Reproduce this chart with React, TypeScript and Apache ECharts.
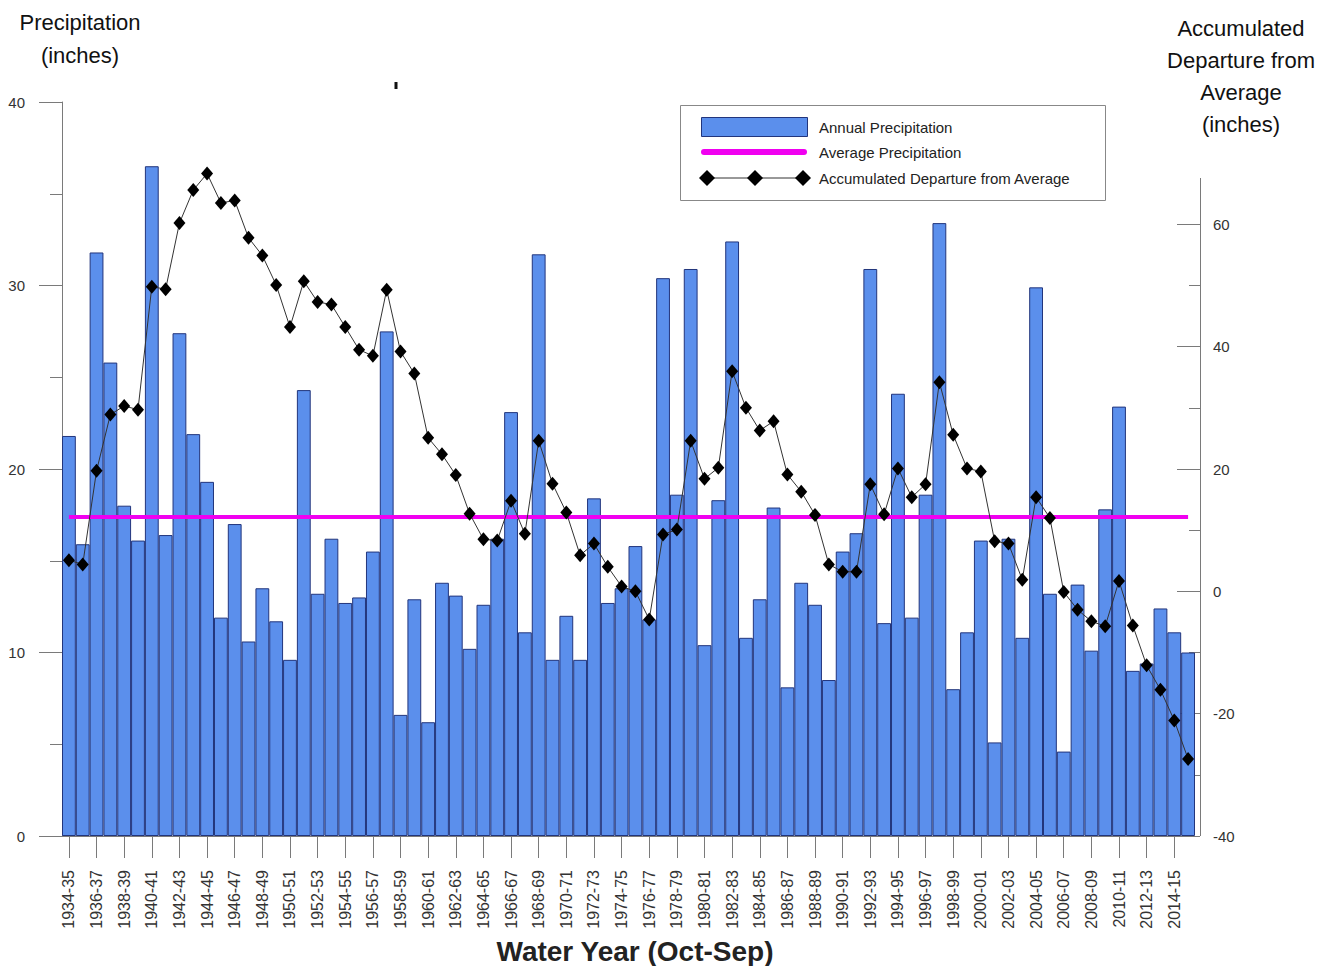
import React, { useEffect, useRef } from "react";
import * as echarts from "echarts";

const WATER_YEARS = [
  "1934-35", "1935-36", "1936-37", "1937-38", "1938-39", "1939-40", "1940-41", "1941-42", "1942-43", "1943-44",
  "1944-45", "1945-46", "1946-47", "1947-48", "1948-49", "1949-50", "1950-51", "1951-52", "1952-53", "1953-54",
  "1954-55", "1955-56", "1956-57", "1957-58", "1958-59", "1959-60", "1960-61", "1961-62", "1962-63", "1963-64",
  "1964-65", "1965-66", "1966-67", "1967-68", "1968-69", "1969-70", "1970-71", "1971-72", "1972-73", "1973-74",
  "1974-75", "1975-76", "1976-77", "1977-78", "1978-79", "1979-80", "1980-81", "1981-82", "1982-83", "1983-84",
  "1984-85", "1985-86", "1986-87", "1987-88", "1988-89", "1989-90", "1990-91", "1991-92", "1992-93", "1993-94",
  "1994-95", "1995-96", "1996-97", "1997-98", "1998-99", "1999-00", "2000-01", "2001-02", "2002-03", "2003-04",
  "2004-05", "2005-06", "2006-07", "2007-08", "2008-09", "2009-10", "2010-11", "2011-12", "2012-13", "2013-14",
  "2014-15", "2015-16",
];

// Annual precipitation (inches), left axis
const ANNUAL_PRECIP = [
  21.8, 15.9, 31.8, 25.8, 18.0, 16.1, 36.5, 16.4, 27.4, 21.9,
  19.3, 11.9, 17.0, 10.6, 13.5, 11.7, 9.6, 24.3, 13.2, 16.2,
  12.7, 13.0, 15.5, 27.5, 6.6, 12.9, 6.2, 13.8, 13.1, 10.2,
  12.6, 16.2, 23.1, 11.1, 31.7, 9.6, 12.0, 9.6, 18.4, 12.7,
  13.5, 15.8, 11.8, 30.4, 18.6, 30.9, 10.4, 18.3, 32.4, 10.8,
  12.9, 17.9, 8.1, 13.8, 12.6, 8.5, 15.5, 16.5, 30.9, 11.6,
  24.1, 11.9, 18.6, 33.4, 8.0, 11.1, 16.1, 5.1, 16.2, 10.8,
  29.9, 13.2, 4.6, 13.7, 10.1, 17.8, 23.4, 9.0, 9.4, 12.4,
  11.1, 10.0,
];

// Accumulated departure from average (inches), right axis
const ACCUM_DEPARTURE = [
  5.1, 4.4, 19.7, 28.9, 30.3, 29.7, 49.8, 49.4, 60.2, 65.6,
  68.3, 63.5, 63.9, 57.8, 54.9, 50.1, 43.2, 50.7, 47.3, 46.9,
  43.2, 39.5, 38.5, 49.3, 39.2, 35.6, 25.1, 22.4, 19.0, 12.7,
  8.5, 8.3, 14.8, 9.4, 24.6, 17.6, 12.9, 5.9, 7.8, 4.0,
  0.8, 0.0, -4.6, 9.3, 10.1, 24.6, 18.4, 20.2, 36.0, 30.0,
  26.3, 27.8, 19.1, 16.3, 12.5, 4.4, 3.2, 3.2, 17.5, 12.6,
  20.1, 15.4, 17.5, 34.2, 25.6, 20.1, 19.6, 8.2, 7.8, 1.9,
  15.4, 12.0, -0.1, -3.0, -4.9, -5.7, 1.7, -5.6, -12.1, -16.1,
  -21.1, -27.4,
];

const AVERAGE_PRECIP = 17.4;

const RIGHT_MAJOR_TICKS = [-40, -20, 0, 20, 40, 60];
const RIGHT_MINOR_TICKS = [-30, -10, 10, 30, 50];

const FONT = "'Liberation Sans', Arial, Helvetica, sans-serif";
const BLUE = "#5b8fec";
const NAVY = "#22357c";
const MAGENTA = "#f000f0";
const AXIS = "#7a7a7a";
const TEXT = "#333333";

function diamond(cx: number, cy: number, r: number) {
  return {
    type: "polygon",
    shape: { points: [[cx, cy - r], [cx + r, cy], [cx, cy + r], [cx - r, cy]] },
    style: { fill: "#000" },
  };
}

export default function App() {
  const ref = useRef<HTMLDivElement>(null);

  useEffect(() => {
    document.body.style.margin = "0";
    const chart = echarts.init(ref.current!, null, { renderer: "svg" });
    chart.setOption({
      animation: false,
      backgroundColor: "#ffffff",
      textStyle: { fontFamily: FONT },
      grid: { left: 62, right: 130, top: 102, bottom: 130, containLabel: false },
      xAxis: {
        type: "category",
        data: WATER_YEARS,
        boundaryGap: true,
        axisLine: { show: true, lineStyle: { color: AXIS, width: 1 } },
        axisTick: { show: true, interval: 1, alignWithLabel: true, length: 22, lineStyle: { color: AXIS } },
        axisLabel: { interval: 1, rotate: 90, margin: 34, fontSize: 16, color: TEXT, fontFamily: FONT },
        splitLine: { show: false },
      },
      yAxis: [
        {
          type: "value",
          position: "left",
          min: 0,
          max: 40,
          interval: 10,
          axisLine: { show: true, lineStyle: { color: AXIS } },
          axisTick: { show: true, length: 23, lineStyle: { color: AXIS } },
          minorTick: { show: true, splitNumber: 2, length: 12, lineStyle: { color: AXIS } },
          axisLabel: { margin: 37, fontSize: 15, color: TEXT, fontFamily: FONT },
          splitLine: { show: false },
          minorSplitLine: { show: false },
        },
        {
          type: "value",
          position: "right",
          offset: 5,
          min: -40,
          max: 80,
          interval: 20,
          axisLine: { show: false },
          axisTick: { show: true, inside: true, length: 23, customValues: RIGHT_MAJOR_TICKS, lineStyle: { color: AXIS } },
          axisLabel: { customValues: RIGHT_MAJOR_TICKS, margin: 13, fontSize: 15, color: TEXT, fontFamily: FONT },
          splitLine: { show: false },
        },
        {
          type: "value",
          position: "right",
          offset: 5,
          min: -40,
          max: 80,
          interval: 20,
          axisLine: { show: false },
          axisTick: { show: true, inside: true, length: 11, customValues: RIGHT_MINOR_TICKS, lineStyle: { color: AXIS } },
          axisLabel: { show: false },
          splitLine: { show: false },
        },
      ],
      series: [
        {
          name: "Annual Precipitation",
          type: "bar",
          yAxisIndex: 0,
          data: ANNUAL_PRECIP,
          barCategoryGap: "0%",
          itemStyle: { color: BLUE, borderColor: NAVY, borderWidth: 1 },
          emphasis: { disabled: true },
          markLine: {
            silent: true,
            symbol: ["none", "none"],
            label: { show: false },
            lineStyle: { color: MAGENTA, width: 4, type: "solid" },
            data: [[{ coord: [0, AVERAGE_PRECIP] }, { coord: [WATER_YEARS.length - 1, AVERAGE_PRECIP] }]],
          },
        },
        {
          name: "Accumulated Departure from Average",
          type: "line",
          yAxisIndex: 1,
          data: ACCUM_DEPARTURE,
          z: 5,
          symbol: "diamond",
          symbolSize: [12, 14],
          showSymbol: true,
          showAllSymbol: true,
          lineStyle: { color: "#333", width: 1 },
          itemStyle: { color: "#000" },
          emphasis: { disabled: true },
        },
      ],
      graphic: [
        // right axis line (starts below the top of the plot)
        { type: "line", shape: { x1: 1200.5, y1: 178, x2: 1200.5, y2: 836 }, style: { stroke: AXIS, lineWidth: 1 } },
        // axis titles
        {
          type: "text", x: 80, y: 6,
          style: { text: "Precipitation\n(inches)", fontSize: 22, lineHeight: 33, align: "center", verticalAlign: "top", fill: "#111", fontFamily: FONT },
        },
        {
          type: "text", x: 1241, y: 12,
          style: { text: "Accumulated\nDeparture from\nAverage\n(inches)", fontSize: 22, lineHeight: 32, align: "center", verticalAlign: "top", fill: "#111", fontFamily: FONT },
        },
        {
          type: "text", x: 635, y: 951,
          style: { text: "Water Year (Oct-Sep)", fontSize: 28, fontWeight: "bold", align: "center", verticalAlign: "middle", fill: "#222", fontFamily: FONT },
        },
        { type: "rect", shape: { x: 394.5, y: 82, width: 3, height: 7 }, style: { fill: "#111" } },
        // legend
        {
          type: "group",
          z: 10,
          children: [
            { type: "rect", shape: { x: 680.5, y: 105.5, width: 425, height: 95 }, style: { fill: "#fff", stroke: "#888", lineWidth: 1 } },
            { type: "rect", shape: { x: 701.5, y: 117.5, width: 106, height: 19 }, style: { fill: BLUE, stroke: NAVY, lineWidth: 1 } },
            { type: "text", x: 819, y: 127, style: { text: "Annual Precipitation", fontSize: 15, fill: "#222", verticalAlign: "middle", fontFamily: FONT } },
            { type: "line", shape: { x1: 704, y1: 152, x2: 804, y2: 152 }, style: { stroke: MAGENTA, lineWidth: 6, lineCap: "round" } },
            { type: "text", x: 819, y: 152, style: { text: "Average Precipitation", fontSize: 15, fill: "#222", verticalAlign: "middle", fontFamily: FONT } },
            { type: "line", shape: { x1: 707, y1: 178, x2: 803, y2: 178 }, style: { stroke: "#333", lineWidth: 1 } },
            diamond(707, 178, 8),
            diamond(755, 178, 8),
            diamond(803, 178, 8),
            { type: "text", x: 819, y: 178, style: { text: "Accumulated Departure from Average", fontSize: 15, fill: "#222", verticalAlign: "middle", fontFamily: FONT } },
          ],
        },
      ],
    });
    return () => chart.dispose();
  }, []);

  return <div ref={ref} style={{ width: 1325, height: 966 }} />;
}
